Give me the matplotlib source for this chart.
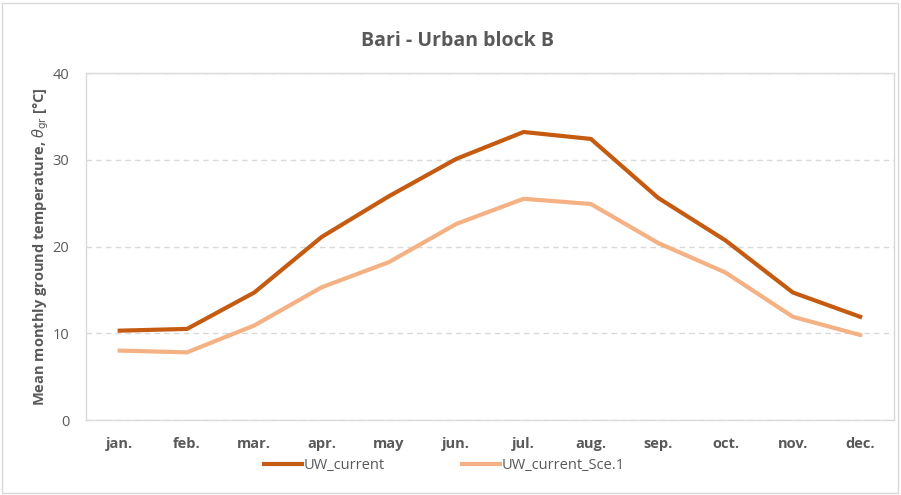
import matplotlib
matplotlib.use("Agg")
import matplotlib.pyplot as plt
from matplotlib.patches import Rectangle

months = ["jan.", "feb.", "mar.", "apr.", "may", "jun.", "jul.", "aug.", "sep.", "oct.", "nov.", "dec."]
uw_current = [10.3, 10.5, 14.7, 21.1, 25.8, 30.1, 33.2, 32.4, 25.6, 20.7, 14.7, 11.9]
uw_current_sce1 = [8.0, 7.8, 10.9, 15.3, 18.2, 22.6, 25.5, 24.9, 20.4, 17.0, 11.9, 9.8]

plt.rcParams['font.family'] = ['Open Sans', 'DejaVu Sans']
plt.rcParams['mathtext.fontset'] = 'dejavusans'
grey = '#595959'

fig = plt.figure(figsize=(9.01, 4.95), dpi=100)
ax = fig.add_axes([0.0955, 0.1515, 0.8965, 0.701])

x = range(len(months))
ax.plot(x, uw_current, color='#C55A11', lw=3, label='UW_current', solid_joinstyle='round')
ax.plot(x, uw_current_sce1, color='#F4B183', lw=3, label='UW_current_Sce.1', solid_joinstyle='round')

ax.set_xlim(-0.5, 11.5)
ax.set_ylim(0, 40)
ax.set_yticks([0, 10, 20, 30, 40])
ax.set_xticks(list(x))
ax.set_xticklabels(months, fontweight='bold')
ax.tick_params(axis='both', length=0, colors=grey, labelsize=10.5)
ax.tick_params(axis='x', pad=12)
ax.tick_params(axis='y', pad=12)
ax.grid(axis='y', color='#D9D9D9', linestyle=(0, (4, 3)), lw=1)
for s in ax.spines.values():
    s.set_color('#D9D9D9')
    s.set_linewidth(1)

ax.set_ylabel(r'Mean monthly ground temperature, $\theta_{\mathrm{gr}}$ [°C]',
              fontsize=10.5, fontweight='bold', color=grey, labelpad=1)
fig.text(0.508, 0.918, 'Bari - Urban block B', ha='center', va='center',
         fontsize=14, fontweight='bold', color=grey)

fig.legend(loc='center', bbox_to_anchor=(0.493, 0.059), ncol=2, frameon=False,
           fontsize=10.5, labelcolor=grey, handlelength=2.6, handletextpad=0.1,
           columnspacing=5.3)

fig.patches.append(Rectangle((0.002, 0.004), 0.995, 0.99, transform=fig.transFigure,
                             fill=False, edgecolor='#D9D9D9', lw=1))

fig.savefig('out.png', dpi=100)
